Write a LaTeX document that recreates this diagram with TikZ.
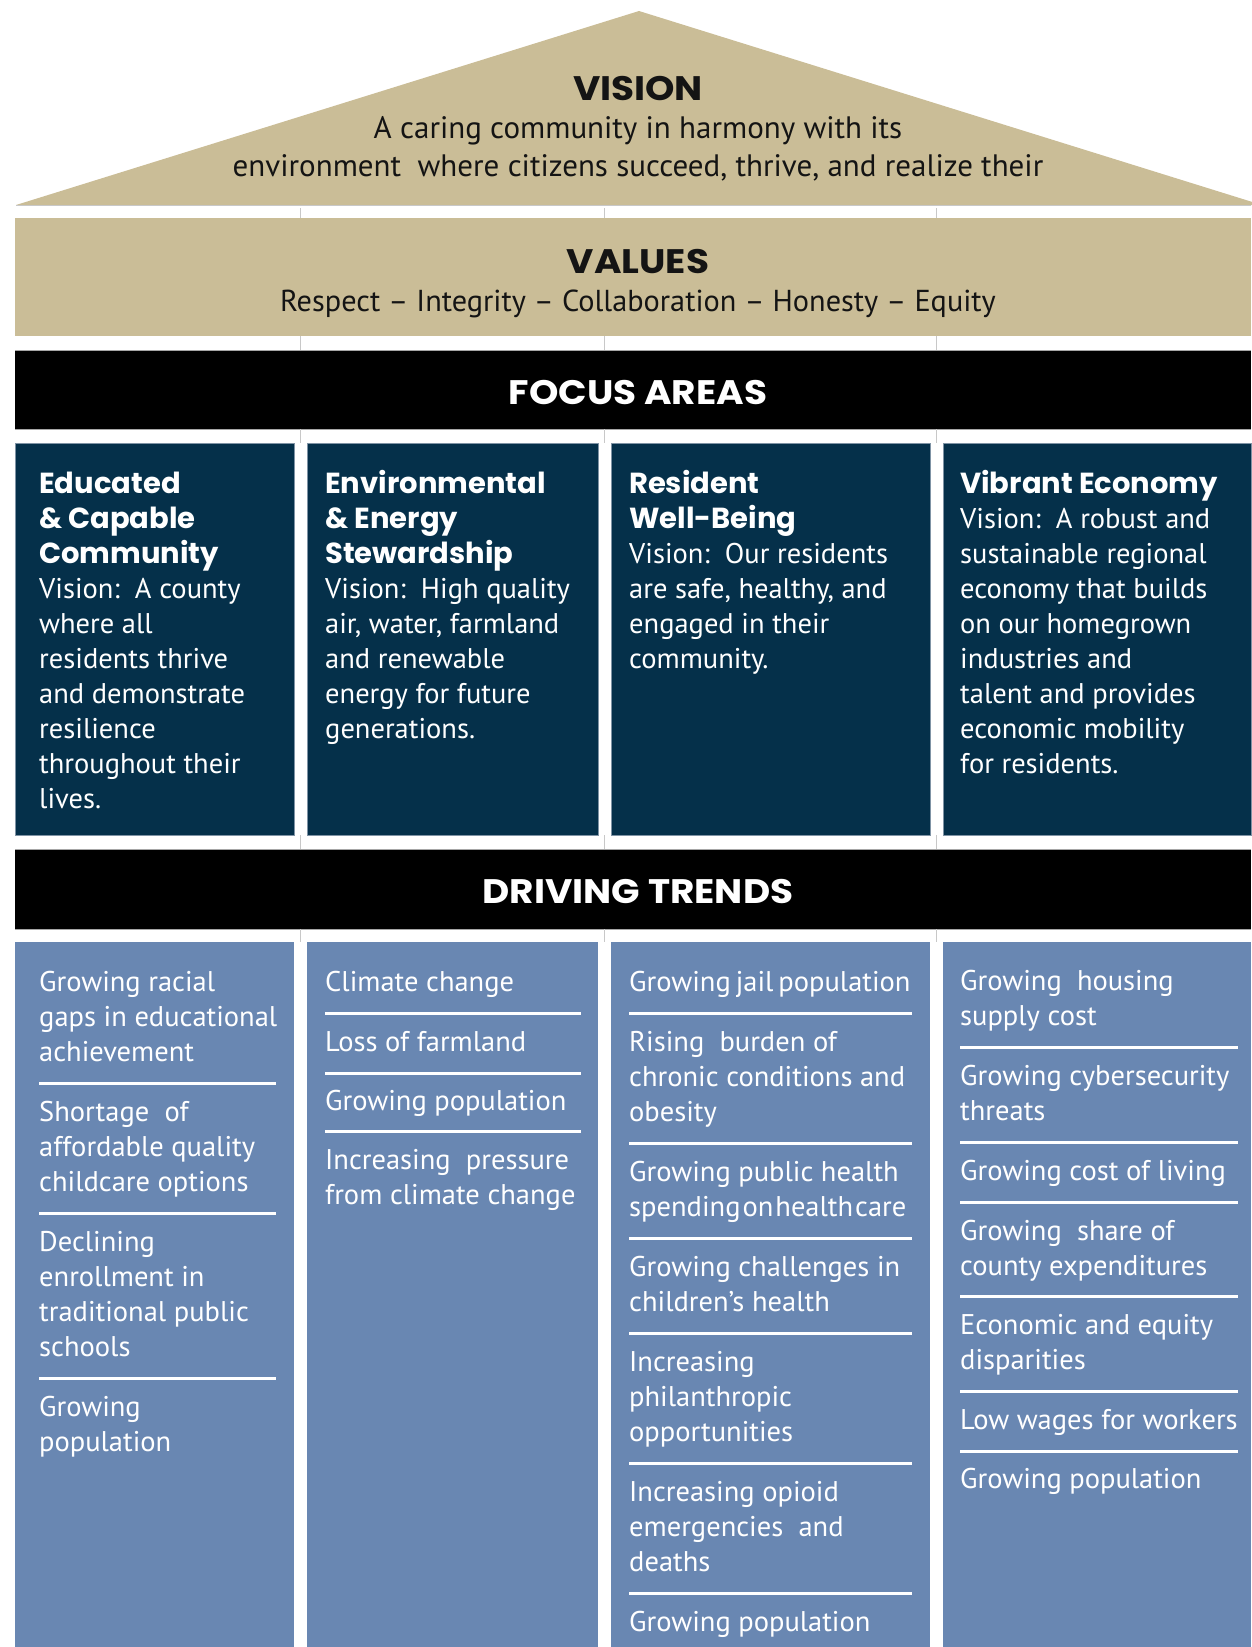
\documentclass[tikz,border=0pt]{standalone}
\usepackage{fontspec}
\setmainfont{PT Sans}
\newfontfamily\headfont{Poppins}
\newfontfamily\bandfont{Poppins}[FakeStretch=1.1]
\definecolor{tanc}{HTML}{CABD97}
\definecolor{navyc}{HTML}{05304A}
\definecolor{steelc}{HTML}{6987B2}
\definecolor{tickc}{HTML}{C8C8C8}
\definecolor{inkc}{HTML}{141414}
\definecolor{edgec}{HTML}{7F93A5}
\newcommand\bodyf{\fontsize{28.5}{35}\selectfont}
\newcommand\topf{\fontsize{31}{38}\selectfont}
\newcommand\headf{\headfont\bfseries\fontsize{29}{35}\selectfont}
\newcommand\bandf{\bandfont\bfseries\fontsize{34}{40}\selectfont}
\newcommand\fst{\rule{0pt}{24pt}}
\tikzset{
  txt/.style={anchor=north west, inner sep=0pt, align=left, font=\bodyf, text=white},
  ctr/.style={anchor=base, inner sep=0pt, font=\topf, text=inkc},
  band/.style={anchor=base, inner sep=0pt, font=\bandf},
  sepline/.style={white, line width=3pt},
  tick/.style={tickc, line width=1pt},
}
\begin{document}
\begin{tikzpicture}[x=1pt,y=-1pt]
\useasboundingbox (0,0) rectangle (1251,1647);
% roof
\fill[tanc] (16,205) -- (639,11) -- (1262,205) -- cycle;
\draw[tickc, line width=1pt] (16,205.5) -- (1251,205.5);
% values band
\fill[tanc] (15,218) rectangle (1251,336);
% focus band
\fill[black] (15,350) rectangle (1251,429);
\draw[gray!70, line width=1pt] (15,350) -- (1251,350) (15,429) -- (1251,429);
% focus columns
\foreach \a/\b in {15/294, 307/598, 611/930, 943/1251}{
  \filldraw[fill=navyc, draw=edgec, line width=1pt] (\a,443) rectangle (\b,835);
}
% trends band
\fill[black] (15,849) rectangle (1251,929);
\draw[gray!70, line width=1pt] (15,849) -- (1251,849) (15,929) -- (1251,929);
% trend columns
\foreach \a/\b in {15/294, 307/598, 611/930, 943/1251}{
  \fill[steelc] (\a,942) rectangle (\b,1647);
}
% ticks in gaps
\foreach \x in {300.5, 604.5, 936.5}{
  \draw[tick] (\x,208) -- (\x,218);
  \draw[tick] (\x,336) -- (\x,350);
  \draw[tick] (\x,429) -- (\x,443);
  \draw[tick] (\x,835) -- (\x,849);
  \draw[tick] (\x,929) -- (\x,942);
}
% top texts
\node[band, text=inkc] (vision) at (638,100.7) {VISION};
\node[ctr] (vis1) at (638,138) {A caring community in harmony with its};
\node[ctr] (vis2) at (638,176) {environment\ \ where citizens succeed, thrive, and realize their};
\node[band, text=inkc] (values) at (638,273) {VALUES};
\node[ctr, font=\fontsize{30.3}{36}\selectfont] (val1) at (638,311) {Respect – Integrity – Collaboration – Honesty – Equity};
\node[band, text=white] (focus) at (638,404) {FOCUS AREAS};
\node[band, text=white] (trends) at (638,903) {DRIVING TRENDS};
% focus column texts
\node[txt] (f1) at (39,469) {\fst{\headf Educated}\\{\headf \& Capable}\\{\headf Community}\\Vision:\ \ A county\\where all\\residents thrive\\and demonstrate\\resilience\\throughout their\\lives.};
\node[txt] (f2) at (325,469) {\fst{\headf Environmental}\\{\headf \& Energy}\\{\headf Stewardship}\\Vision:\ \ High quality\\air, water, farmland\\and renewable\\energy for future\\generations.};
\node[txt] (f3) at (629,469) {\fst{\headf Resident}\\{\headf Well-Being}\\Vision:\ \ Our residents\\are safe, healthy, and\\engaged in their\\community.};
\node[txt] (f4) at (960,469) {\fst{\headf Vibrant Economy}\\Vision:\ \ A robust and\\sustainable regional\\economy that builds\\on our homegrown\\industries and\\talent and provides\\economic mobility\\for residents.};
% trends column 1
\node[txt] (t11) at (39,967) {\fst Growing racial\\gaps in educational\\achievement};
\draw[sepline] (39,1083) -- (276,1083);
\node[txt] (t12) at (39,1097) {\fst Shortage\ \ of\\affordable quality\\childcare options};
\draw[sepline] (39,1213) -- (276,1213);
\node[txt] (t13) at (39,1227) {\fst Declining\\enrollment in\\traditional public\\schools};
\draw[sepline] (39,1378) -- (276,1378);
\node[txt] (t14) at (39,1392) {\fst Growing\\population};
% trends column 2
\node[txt] (t21) at (325,967) {\fst Climate change};
\draw[sepline] (325,1013) -- (581,1013);
\node[txt] (t22) at (325,1027) {\fst Loss of farmland};
\draw[sepline] (325,1073) -- (581,1073);
\node[txt] (t23) at (325,1086) {\fst Growing population};
\draw[sepline] (325,1131) -- (581,1131);
\node[txt] (t24) at (325,1145) {\fst Increasing\ \ pressure\\from climate change};
% trends column 3
\node[txt] (t31) at (629,967) {\fst{\spaceskip=5pt Growing jail population}};
\draw[sepline] (629,1013) -- (912,1013);
\node[txt] (t32) at (629,1027) {\fst Rising\ \ burden of\\chronic conditions and\\obesity};
\draw[sepline] (629,1143) -- (912,1143);
\node[txt] (t33) at (629,1157) {\fst Growing public health\\{\spaceskip=2pt spending on health care}};
\draw[sepline] (629,1238) -- (912,1238);
\node[txt] (t34) at (629,1252) {\fst Growing challenges in\\children’s health};
\draw[sepline] (629,1333) -- (912,1333);
\node[txt] (t35) at (629,1347) {\fst Increasing\\philanthropic\\opportunities};
\draw[sepline] (629,1463) -- (912,1463);
\node[txt] (t36) at (629,1477) {\fst Increasing opioid\\emergencies\ \ and\\deaths};
\draw[sepline] (629,1593) -- (912,1593);
\node[txt] (t37) at (629,1607) {\fst Growing population};
% trends column 4
\node[txt] (t41) at (960,966) {\fst Growing\ \ housing\\supply cost};
\draw[sepline] (960,1047.5) -- (1238,1047.5);
\node[txt] (t42) at (960,1061) {\fst Growing cybersecurity\\threats};
\draw[sepline] (960,1142) -- (1238,1142);
\node[txt] (t43) at (960,1156) {\fst Growing cost of living};
\draw[sepline] (960,1202) -- (1238,1202);
\node[txt] (t44) at (960,1216) {\fst Growing\ \ share of\\county expenditures};
\draw[sepline] (960,1296) -- (1238,1296);
\node[txt] (t45) at (960,1310) {\fst Economic and equity\\disparities};
\draw[sepline] (960,1391) -- (1238,1391);
\node[txt] (t46) at (960,1405) {\fst Low wages for workers};
\draw[sepline] (960,1451) -- (1238,1451);
\node[txt] (t47) at (960,1464) {\fst Growing population};
\end{tikzpicture}
\end{document}
